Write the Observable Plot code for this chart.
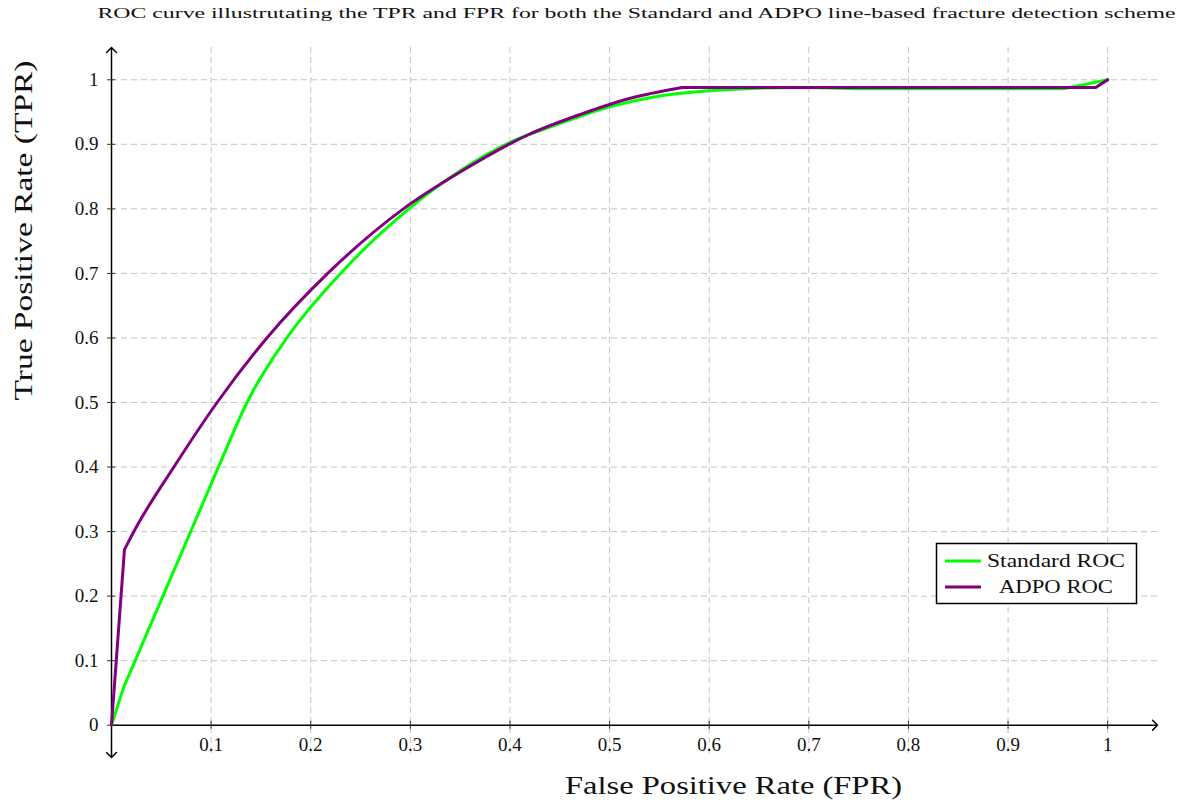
<!DOCTYPE html>
<html>
<head>
<meta charset="utf-8">
<script src="https://cdn.jsdelivr.net/npm/d3@7"></script>
<script src="https://cdn.jsdelivr.net/npm/@observablehq/plot@0.6"></script>
<style>
  html, body { margin: 0; padding: 0; background: white; }
  #chart { width: 1183px; height: 811px; }
</style>
</head>
<body>
<div id="chart"></div>
<script>
// ---- data ----
const titleText = "ROC curve illustrutating the TPR and FPR for both the Standard and ADPO line-based fracture detection scheme";
const xLabel = "False Positive Rate (FPR)";
const yLabel = "True Positive Rate (TPR)";
const seriesNames = ["Standard ROC", "ADPO ROC"];
const seriesColors = ["#00ff00", "#800080"];

const stdFPR = [0, 0.012, 0.1235, 0.136, 0.176, 0.23, 0.2985, 0.35, 0.4, 0.45, 0.5, 0.55, 0.6, 0.65, 0.7, 0.75, 0.956, 1];
const stdTPR = [0, 0.058, 0.458, 0.5, 0.6, 0.7, 0.8, 0.859, 0.903, 0.932, 0.958, 0.975, 0.983, 0.987, 0.988, 0.986, 0.986, 1];

const adpoFPR = [0, 0.013, 0.0224, 0.0626, 0.106, 0.156, 0.217, 0.293, 0.35, 0.42, 0.47, 0.52, 0.573, 0.7, 0.988, 1];
const adpoTPR = [0, 0.272, 0.3, 0.4, 0.5, 0.6, 0.7, 0.8, 0.857, 0.916, 0.946, 0.971, 0.988, 0.988, 0.988, 1];

// index ranges of the smoothly curved stretch of each series
const stdSmooth = [2, 14];
const adpoSmooth = [1, 12];

const xTicks = [0.1, 0.2, 0.3, 0.4, 0.5, 0.6, 0.7, 0.8, 0.9, 1];
const xTickLabels = ["0.1", "0.2", "0.3", "0.4", "0.5", "0.6", "0.7", "0.8", "0.9", "1"];
const yTicks = [0, 0.1, 0.2, 0.3, 0.4, 0.5, 0.6, 0.7, 0.8, 0.9, 1];
const yTickLabels = ["0", "0.1", "0.2", "0.3", "0.4", "0.5", "0.6", "0.7", "0.8", "0.9", "1"];

const xMin = 0, xMax = 1.05, yMin = -0.05, yMax = 1.05;

// ---- build tables ----
const toPts = (xs, ys) => xs.map((x, i) => ({x, y: ys[i]}));
const stdData = toPts(stdFPR, stdTPR);
const adpoData = toPts(adpoFPR, adpoTPR);
function pieces(data, [a, b]) {
  return {
    head: data.slice(0, a + 1),
    mid: data.slice(a, b + 1),
    tail: data.slice(b)
  };
}
const stdP = pieces(stdData, stdSmooth);
const adpoP = pieces(adpoData, adpoSmooth);

const xTickData = xTicks.map((v, i) => ({v, label: xTickLabels[i]}));
const yTickData = yTicks.map((v, i) => ({v, label: yTickLabels[i]}));

const FONT = "'Liberation Serif', 'DejaVu Serif', serif";
const gridStyle = {stroke: "#c4c4c4", strokeOpacity: 1, strokeWidth: 1, strokeDasharray: "6,4"};
const arrowStyle = {x1: "x1", y1: "y1", x2: "x2", y2: "y2", stroke: "black", strokeWidth: 1.5, headLength: 7, headAngle: 90};

function seriesMarks(p, color) {
  const s = {x: "x", y: "y", stroke: color, strokeWidth: 3, strokeLinejoin: "round"};
  return [
    Plot.line(p.head, s),
    Plot.line(p.mid, {...s, curve: "monotone-x"}),
    Plot.line(p.tail, s)
  ];
}

const svg = Plot.plot({
  width: 1183,
  height: 811,
  marginLeft: 111,
  marginRight: 26,
  marginTop: 47,
  marginBottom: 54,
  x: {domain: [xMin, xMax], axis: null},
  y: {domain: [yMin, yMax], axis: null},
  style: {fontFamily: FONT, background: "white", color: "black"},
  marks: [
    Plot.gridX(xTicks, gridStyle),
    Plot.gridY(yTicks.filter(d => d !== 0), gridStyle),
    // axes
    Plot.arrow([{x1: xMin, y1: 0, x2: xMax, y2: 0}], arrowStyle),
    Plot.arrow([{x1: 0, y1: 0, x2: 0, y2: yMax}], arrowStyle),
    Plot.arrow([{x1: 0, y1: 0, x2: 0, y2: yMin}], arrowStyle),
    // ticks
    Plot.ruleX(xTickData, {x: "v", y1: 0, y2: 0, insetTop: -4, insetBottom: -4, stroke: "#333", strokeWidth: 1}),
    Plot.ruleY(yTickData, {y: "v", x1: 0, x2: 0, insetLeft: -4, insetRight: -4, stroke: "#333", strokeWidth: 1}),
    // tick labels
    Plot.text(xTickData, {x: "v", y: 0, text: "label", dy: 20, fontSize: 19, fill: "#111"}),
    Plot.text(yTickData, {x: 0, y: "v", text: "label", dx: -13, textAnchor: "end", fontSize: 19, fill: "#111"}),
    // curves
    ...seriesMarks(stdP, seriesColors[0]),
    ...seriesMarks(adpoP, seriesColors[1]),
    // title and labels
    Plot.text([titleText], {text: d => d, frameAnchor: "top", dx: 2, dy: -30, lineAnchor: "bottom", fontSize: 15, fill: "#111"}),
    Plot.text([xLabel], {text: d => d, frameAnchor: "bottom", dx: 99, dy: 36, lineAnchor: "bottom", fontSize: 26, fill: "#111"}),
    Plot.text([yLabel], {text: d => d, frameAnchor: "left", rotate: -90, dx: -80, dy: -2, lineAnchor: "bottom", fontSize: 26, fill: "#111"})
  ]
});

// stretch texts to match reference widths (Computer Modern is wider)
const lengths = new Map([[titleText, 1078], [xLabel, 337], [yLabel, 340]]);
d3.select(svg).selectAll("text").each(function() {
  const t = this.textContent;
  if (lengths.has(t)) {
    this.setAttribute("textLength", lengths.get(t));
    this.setAttribute("lengthAdjust", "spacingAndGlyphs");
  }
});

// legend
const lg = d3.select(svg).append("g").attr("font-family", FONT);
lg.append("rect").attr("x", 936.5).attr("y", 543.5).attr("width", 200).attr("height", 60)
  .attr("fill", "white").attr("stroke", "black").attr("stroke-width", 1.5);
const legendLens = [138, 114];
seriesNames.forEach((name, i) => {
  const cy = 561 + i * 26;
  lg.append("line").attr("x1", 945).attr("x2", 981).attr("y1", cy).attr("y2", cy)
    .attr("stroke", seriesColors[i]).attr("stroke-width", 3);
  lg.append("text").attr("x", 1056).attr("y", cy).attr("dy", "0.34em")
    .attr("text-anchor", "middle").attr("font-size", 19).attr("fill", "#111")
    .attr("textLength", legendLens[i]).attr("lengthAdjust", "spacingAndGlyphs")
    .text(name);
});

document.getElementById("chart").appendChild(svg);
</script>
</body>
</html>
